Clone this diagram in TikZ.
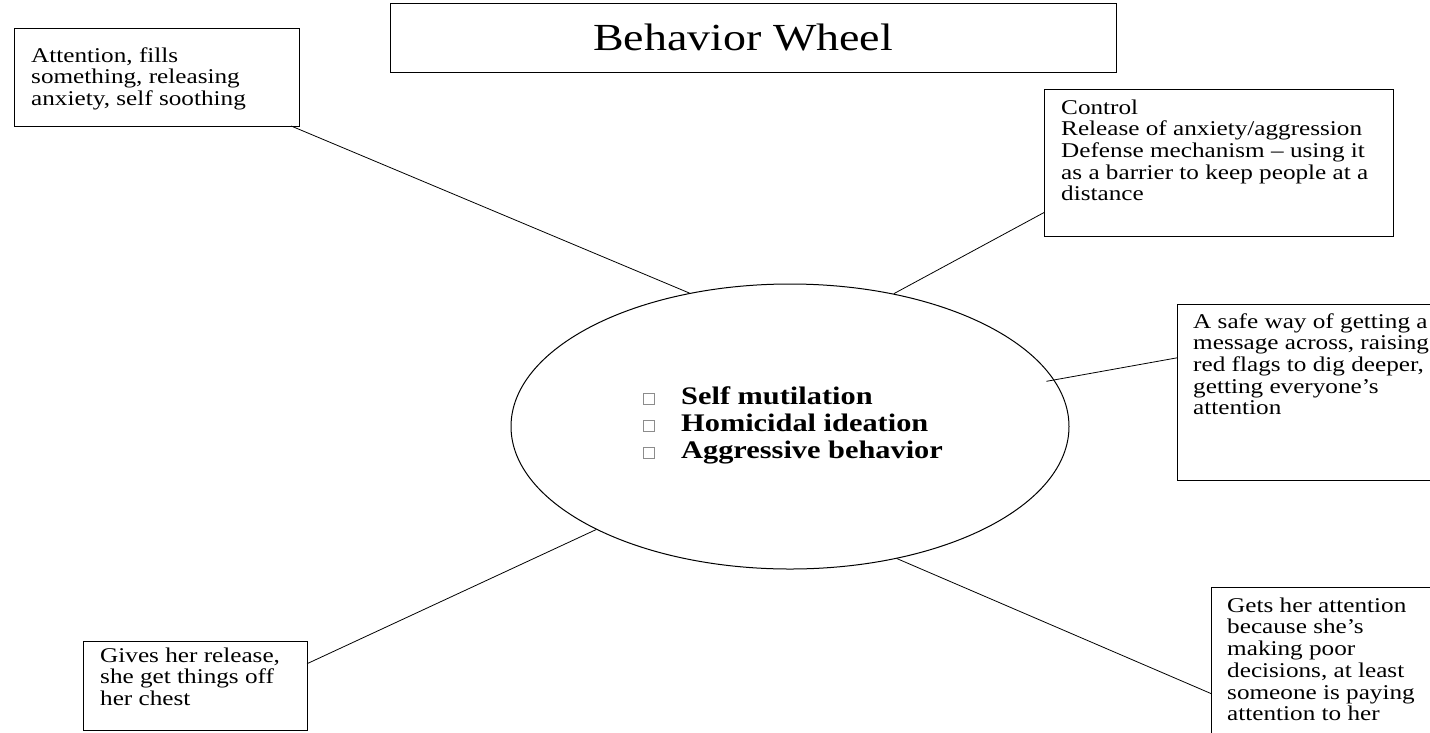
\documentclass[tikz,border=0pt]{standalone}
\usepackage{fontspec}
\setmainfont{Liberation Serif}[FakeStretch=1.2]
\usepackage{xcolor}
\usepackage{tikz}
\usetikzlibrary{shapes.geometric}
\usetikzlibrary{calc}
\definecolor{bullgray}{HTML}{8C8C8C}
\newcommand{\sqbul}{\makebox[38pt][l]{\raisebox{0.5pt}{\color{bullgray}\setlength{\fboxsep}{0pt}\setlength{\fboxrule}{0.7pt}\fbox{\rule{0pt}{10pt}\rule{10pt}{0pt}}}}}

\begin{document}
\begin{tikzpicture}[
  x=1pt, y=-1pt,
  link/.style ={
    line width=0.8pt
  },
  wbox/.style 2 args={
    rectangle,
    draw,
    line width=0.9pt,
    minimum width=#1,
    minimum height=#2,
    anchor=north west,
    inner sep=0pt,
    outer sep=0pt},
  note/.style={
    align=left,
    anchor=north west,
    inner sep=0pt,
    font=\fontsize{21}{21.7}\selectfont},
]

  \useasboundingbox (0,0) rectangle (1430,732);
  \clip (0,0) rectangle (1430,732);

    % Title
  \node[wbox={726}{69}] (title) at (390,3) {};
  \node[font=\fontsize{38.3}{42}\selectfont, xshift=-10] (title_txt) at (title.center) {Behavior Wheel};

    % Wheel
  \node[ellipse, draw, line width=1pt, minimum width=558, minimum height=285] (wheel) at (790,426.5) {};
  \node[align=left, anchor=north west, inner sep=0pt,
        font=\fontsize{25.3}{27}\selectfont\bfseries] (wheel_txt) at (643,385.1)
        {\strut\sqbul Self mutilation\\ \sqbul Homicidal ideation\\ \sqbul Aggressive behavior};

    % Reasons
  \node[wbox={285}{98}] (attn) at (14,28) {};
  \node[note] (attn_txt) at (31,46.8)
        {\strut Attention, fills\\ something, releasing\\ anxiety, self soothing};

  \node[wbox={349}{147}] (ctrl) at (1044,89) {};
  \node[note] (ctrl_txt) at (1061,98.8)
        {\strut Control\\ Release of anxiety/aggression\\ Defense mechanism -- using it\\ as a barrier to keep people at a\\ distance};

  \node[wbox={255}{176}] (safe) at (1177,304) {};
  \node[note] (safe_txt) at (1193,312.8)
        {\strut A safe way of getting a\\ message across, raising\\ red flags to dig deeper,\\ getting everyone's\\ attention};

  \node[wbox={230}{160}] (gets) at (1211,587) {};
  \node[note] (gets_txt) at (1227,596.8)
        {\strut Gets her attention\\ because she's\\ making poor\\ decisions, at least\\ someone is paying\\ attention to her};

  \node[wbox={224}{89}] (gives) at (83,641) {};
  \node[note] (gives_txt) at (100,646.8)
        {\strut Gives her release,\\ she get things off\\ her chest};

    % Spokes
  \draw[link] (attn.-20.2) -- (wheel.127.4);
  \draw[link] (ctrl.196.7) -- (wheel.52.3);
  \draw[link, shorten >=-8pt] (safe.165.1) -- (wheel.10.6);
  \draw[link] (gets.193.2) -- (wheel.-51.4);
  \draw[link] (gives.11.85) -- (wheel.208.2);

\end{tikzpicture}
\end{document}
